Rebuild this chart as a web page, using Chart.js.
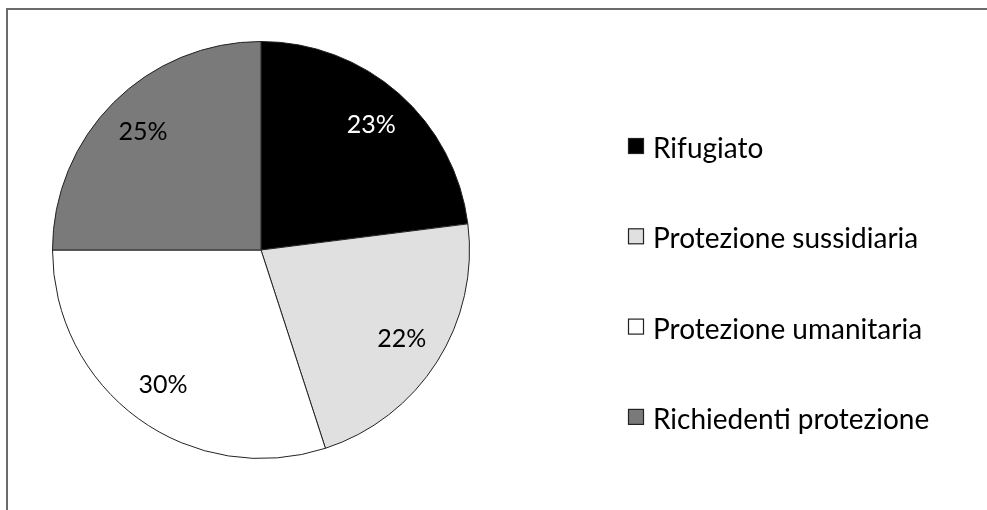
<!DOCTYPE html>
<html lang="it">
<head>
<meta charset="utf-8">
<title>Status dei beneficiari</title>
<script src="https://cdn.jsdelivr.net/npm/chart.js@4.4.1/dist/chart.umd.min.js"></script>
<style>
  html, body { margin: 0; padding: 0; background: #fff; }
  canvas { display: block; }
</style>
</head>
<body>
<canvas id="myChart" width="987" height="510"></canvas>
<script>
const categories = ['Rifugiato', 'Protezione sussidiaria', 'Protezione umanitaria', 'Richiedenti protezione'];
const percentages = [23, 22, 30, 25];
const sliceColors = ['#000000', '#e0e0e0', '#ffffff', '#7a7a7a'];
const labelColors = ['#ffffff', '#000000', '#000000', '#000000'];

const FONT = '"Lato", "Open Sans", sans-serif';

// thin frame around the whole figure (right/bottom edges run off the page)
const framePlugin = {
  id: 'frame',
  beforeDraw(chart) {
    const c = chart.ctx;
    c.save();
    c.strokeStyle = '#6a6a6a';
    c.lineWidth = 2;
    c.strokeRect(7, 9, 1000, 600);
    c.restore();
  }
};

// percentage text inside each slice
const sliceLabels = {
  id: 'sliceLabels',
  afterDatasetsDraw(chart) {
    const c = chart.ctx;
    const meta = chart.getDatasetMeta(0);
    c.save();
    c.font = '25px ' + FONT;
    c.textAlign = 'center';
    c.textBaseline = 'middle';
    meta.data.forEach((arc, i) => {
      const p = arc.getProps(['x', 'y', 'startAngle', 'endAngle', 'outerRadius'], true);
      const mid = (p.startAngle + p.endAngle) / 2;
      const r = p.outerRadius * 0.8;
      c.fillStyle = labelColors[i];
      c.fillText(percentages[i] + '%', p.x + Math.cos(mid) * r, p.y + Math.sin(mid) * r);
    });
    c.restore();
  }
};

// legend on the right, one row per category
const sideLegend = {
  id: 'sideLegend',
  afterDraw(chart) {
    const c = chart.ctx;
    const ds = chart.data.datasets[0];
    c.save();
    c.font = '28px ' + FONT;
    c.textBaseline = 'alphabetic';
    c.textAlign = 'left';
    chart.data.labels.forEach((lab, i) => {
      const base = 158 + i * 90.3;
      c.fillStyle = ds.backgroundColor[i];
      c.fillRect(628.5, base - 19.5, 15, 15);
      c.strokeStyle = '#222';
      c.lineWidth = 1.2;
      c.strokeRect(628.5, base - 19.5, 15, 15);
      c.fillStyle = '#000';
      c.fillText(lab, 653, base);
    });
    c.restore();
  }
};

const ctx = document.getElementById('myChart');

new Chart(ctx, {
  type: 'pie',
  data: {
    labels: categories,
    datasets: [{
      data: percentages,
      backgroundColor: sliceColors,
      borderColor: '#222222',
      borderWidth: 1
    }]
  },
  options: {
    responsive: false,
    devicePixelRatio: 1,
    animation: false,
    layout: {
      padding: { left: 52, top: 41, right: 517, bottom: 51 }
    },
    plugins: {
      legend: { display: false },
      tooltip: { enabled: false }
    }
  },
  plugins: [framePlugin, sliceLabels, sideLegend]
});
</script>
</body>
</html>
